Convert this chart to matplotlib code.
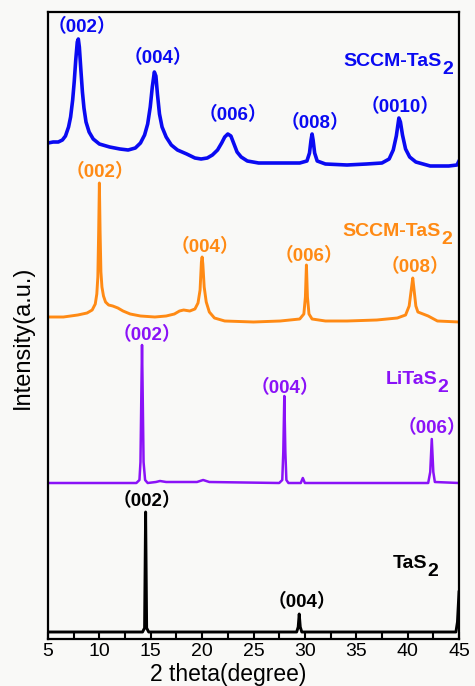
import matplotlib
matplotlib.use("Agg")
import matplotlib.pyplot as plt
from matplotlib.ticker import MultipleLocator

# ---------------- data ----------------
blue_x = [5.0, 5.5, 6.0, 6.4, 6.7, 7.0, 7.2, 7.4, 7.55, 7.7, 7.85, 7.95, 8.05, 8.2, 8.35,
          8.5, 8.7, 9.0, 9.4, 10.0, 11.0, 12.0, 12.8, 13.5, 14.0, 14.4, 14.7, 14.95,
          15.15, 15.35, 15.5, 15.65, 15.85, 16.1, 16.5, 17.0, 17.6, 18.5, 19.3, 19.9,
          20.5, 21.0, 21.5, 21.9, 22.2, 22.5, 22.8, 23.1, 23.4, 23.8, 24.4, 25.5, 27.6,
          29.5, 30.2, 30.45, 30.6, 30.7, 30.8, 30.95, 31.2, 32.0, 34.1, 36.0, 37.5, 38.2,
          38.6, 38.9, 39.15, 39.3, 39.5, 39.8, 40.2, 40.8, 42.2, 44.0, 44.8, 45.0]
blue_y = [489, 490, 490, 492, 496, 505, 515, 532, 550, 572, 590, 593, 585, 562, 540,
          524, 510, 500, 493, 488, 485, 483, 482, 484, 489, 497, 508, 525,
          545, 560, 556, 538, 518, 505, 495, 487, 482, 478, 474, 473,
          474, 477, 482, 489, 495, 498, 496, 488, 480, 475, 471, 469, 469,
          469, 471, 479, 492, 498, 492, 479, 471, 468, 467, 468, 469, 473,
          482, 496, 514, 510, 497, 483, 475, 470, 466, 466, 467, 471]

orange_x = [5.0, 6.5, 7.9, 8.8, 9.3, 9.6, 9.75, 9.85, 9.93, 10.0, 10.07, 10.15, 10.25,
            10.4, 10.6, 10.9, 11.3, 11.8, 12.3, 13.0, 14.0, 15.4, 16.5, 17.3, 17.8, 18.2,
            18.8, 19.3, 19.6, 19.8, 19.93, 20.0, 20.07, 20.2, 20.4, 20.7, 21.2, 22.2,
            25.0, 27.6, 29.5, 29.9, 30.05, 30.15, 30.25, 30.4, 30.7, 32.0, 34.1, 37.0,
            39.0, 39.8, 40.15, 40.35, 40.5, 40.65, 40.8, 41.0, 41.5, 42.0, 42.9, 45.0]
orange_y = [315, 315, 317, 319, 322, 328, 338, 355, 400, 449, 400, 360, 345,
            336, 330, 327, 326, 324, 321, 318, 316, 315, 316, 318, 321, 322,
            321, 323, 329, 342, 370, 375, 368, 345, 330, 320, 314, 311,
            310, 311, 313, 318, 335, 367, 335, 318, 313, 311, 311, 312,
            314, 317, 326, 342, 354, 340, 326, 320, 318, 316, 311, 310]

purple_x = [5.0, 13.6, 13.9, 14.0, 14.1, 14.15, 14.2, 14.3, 14.45, 14.7, 15.5, 15.9, 16.5,
            19.5, 20.1, 20.7, 27.5, 27.8, 27.9, 28.0, 28.1, 28.2, 28.4, 29.6, 29.8, 30.0,
            42.0, 42.2, 42.35, 42.5, 42.65, 45.0]
purple_y = [149, 149, 152, 170, 250, 287, 250, 170, 152, 149, 150, 151, 150,
            150, 152, 150, 149, 152, 180, 236, 180, 152, 149, 149, 154, 149,
            149, 160, 193, 160, 150, 149]

black_x = [5.0, 14.2, 14.4, 14.5, 14.6, 14.8, 29.2, 29.35, 29.45, 29.55, 29.7, 44.7, 44.85, 45.0]
black_y = [0, 0, 4, 120, 4, 0, 0, 5, 18, 5, 0, 0, 10, 40]

series_colors = ["#0a0af2", "#ff8a14", "#8a12f7", "#000000"]

# peak labels
peak_labels = ["（002）", "（004）", "（006）", "（008）", "（0010）",
               "（002）", "（004）", "（006）", "（008）",
               "（002）", "（004）", "（006）",
               "（002）", "（004）"]
peak_label_x = [8.31, 15.71, 23.0, 30.99, 39.26,
                10.06, 20.28, 30.40, 40.72,
                14.64, 28.07, 42.37,
                14.64, 29.72]
peak_label_y = [605, 574, 517, 509, 525,
                460, 385, 376, 365,
                297, 244, 204,
                131, 30]
peak_label_c = [0, 0, 0, 0, 0, 1, 1, 1, 1, 2, 2, 2, 3, 3]

sample_names = ["SCCM-TaS", "SCCM-TaS", "LiTaS", "TaS"]
sample_sub = ["2", "2", "2", "2"]
sample_x = [43.35, 43.25, 42.86, 41.9]
sample_y = [570, 401, 253, 69]

xticks = [5, 10, 15, 20, 25, 30, 35, 40, 45]

# ---------------- figure ----------------
bg = "#f9f9f7"
fig = plt.figure(figsize=(4.75, 6.86), dpi=100, facecolor=bg)
ax = fig.add_axes([48 / 475, 47 / 686, 411 / 475, 627 / 686])
ax.set_facecolor(bg)

ax.plot(blue_x, blue_y, color=series_colors[0], lw=2.6, solid_joinstyle="round")
ax.plot(orange_x, orange_y, color=series_colors[1], lw=2.1, solid_joinstyle="round")
ax.plot(purple_x, purple_y, color=series_colors[2], lw=1.8, solid_joinstyle="round")
ax.plot(black_x, black_y, color=series_colors[3], lw=2.1, solid_joinstyle="round")

ax.set_xlim(5, 45)
ax.set_ylim(-7, 620)
ax.set_xticks(xticks)
ax.set_xticklabels([str(t) for t in xticks])
ax.xaxis.set_minor_locator(MultipleLocator(2.5))
ax.set_yticks([])
ax.tick_params(axis="x", which="both", direction="in", length=5, width=1.5,
               pad=3, labelsize=14)
for lab in ax.get_xticklabels():
    lab.set_fontfamily("Liberation Sans")
for sp in ax.spines.values():
    sp.set_linewidth(1.6)
    sp.set_color("black")

lab_family = ["Liberation Sans", "Noto Sans CJK SC"]
for t, x, y, c in zip(peak_labels, peak_label_x, peak_label_y, peak_label_c):
    ax.text(x, y, t, color=series_colors[c], ha="center", va="center",
            fontsize=13.5, fontweight="bold", family=lab_family)

for name, sub, x, y, c in zip(sample_names, sample_sub, sample_x, sample_y, range(4)):
    ax.text(x, y, name, color=series_colors[c], ha="right", va="center",
            fontsize=14, fontweight="bold", family="Liberation Sans")
    ax.text(x + 0.05, y - 8, sub, color=series_colors[c], ha="left", va="center",
            fontsize=14, fontweight="bold", family="Liberation Sans")

fig.text(228 / 475, 1 - 675 / 686, "2 theta(degree)", ha="center", va="center",
         fontsize=16.5, family="Liberation Sans")
fig.text(23 / 475, 1 - 337 / 686, "Intensity(a.u.)", ha="center", va="center",
         rotation=90, fontsize=17, family="Liberation Sans")

fig.savefig("out.png", dpi=100, facecolor=bg)
